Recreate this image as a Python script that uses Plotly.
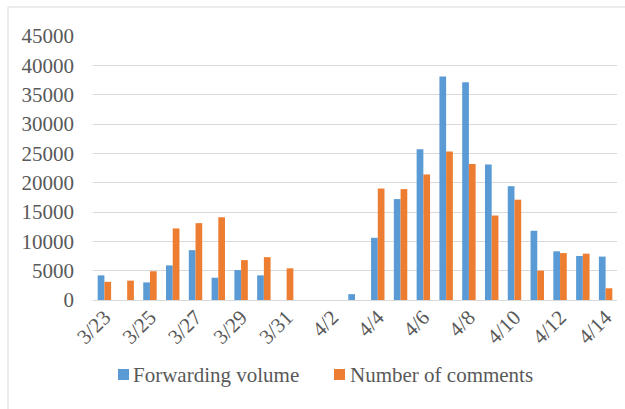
import plotly.graph_objects as go

dates = ["3/23", "3/24", "3/25", "3/26", "3/27", "3/28", "3/29", "3/30", "3/31",
         "4/1", "4/2", "4/3", "4/4", "4/5", "4/6", "4/7", "4/8", "4/9", "4/10",
         "4/11", "4/12", "4/13", "4/14"]
forwarding = [4200, 0, 3000, 5900, 8500, 3800, 5100, 4200, 0,
              0, 0, 1000, 10600, 17200, 25700, 38100, 37100, 23100, 19400,
              11800, 8300, 7500, 7400]
comments = [3100, 3300, 4900, 12200, 13100, 14100, 6800, 7300, 5400,
            0, 0, 0, 19000, 18900, 21400, 25300, 23200, 14400, 17100,
            5000, 8000, 7900, 2000]
series_names = ["Forwarding volume", "Number of comments"]
series_colors = ["#5B9BD5", "#ED7D31"]
shown_ticks = dates[::2]
y_ticks = [0, 5000, 10000, 15000, 20000, 25000, 30000, 35000, 40000, 45000]
y_labels = [str(v) for v in y_ticks]

W, H = 625, 409
L, R, T, B = 93, 8, 36, 109
pw, ph = W - L - R, H - T - B

def px_x(p):
    return (p - L) / pw

def px_y(p):
    return (H - B - p) / ph

font = "'Liberation Serif', 'Times New Roman', serif"
fsize = 21
fcolor = "#595959"

fig = go.Figure()
for vals, name, col in zip([forwarding, comments], series_names, series_colors):
    fig.add_trace(go.Bar(x=dates, y=vals, name=name,
                         marker=dict(color=col, line=dict(width=0))))

# manual legend (squares + text)
legend_sq_x = [118, 334]
legend_txt_x = [131, 348]
shapes = [dict(type="rect", xref="paper", yref="paper",
               x0=px_x(8), x1=px_x(700), y0=px_y(7), y1=px_y(500),
               line=dict(color="#D9D9D9", width=1), fillcolor="rgba(0,0,0,0)",
               layer="below")]
annotations = []
for sx, tx, name, col in zip(legend_sq_x, legend_txt_x, series_names, series_colors):
    shapes.append(dict(type="rect", xref="paper", yref="paper",
                       x0=px_x(sx), x1=px_x(sx + 11), y0=px_y(369), y1=px_y(380),
                       line=dict(width=0), fillcolor=col))
    annotations.append(dict(xref="paper", yref="paper", x=px_x(tx), y=px_y(375),
                            xanchor="left", yanchor="middle", showarrow=False,
                            text=name, font=dict(family=font, size=fsize, color=fcolor)))

fig.update_layout(
    width=W, height=H,
    margin=dict(l=L, r=R, t=T, b=B),
    paper_bgcolor="white", plot_bgcolor="white",
    font=dict(family=font, size=fsize, color=fcolor),
    barmode="group", bargap=0.41, bargroupgap=0,
    showlegend=False,
    shapes=shapes,
    annotations=annotations,
)
fig.update_xaxes(type="category", tickmode="array", tickvals=shown_ticks,
                 ticktext=shown_ticks, tickangle=-45, showgrid=False,
                 showline=False, ticks="", tickfont=dict(family=font, size=fsize, color=fcolor))
fig.update_yaxes(range=[0, 45000], tickmode="array", tickvals=y_ticks, ticktext=y_labels,
                 showgrid=True, gridcolor="#D9D9D9", gridwidth=1,
                 zeroline=True, zerolinecolor="#D9D9D9", zerolinewidth=1,
                 showline=False, ticks="", ticklabelstandoff=18,
                 tickfont=dict(family=font, size=fsize, color=fcolor))

fig.write_html("out.html")
